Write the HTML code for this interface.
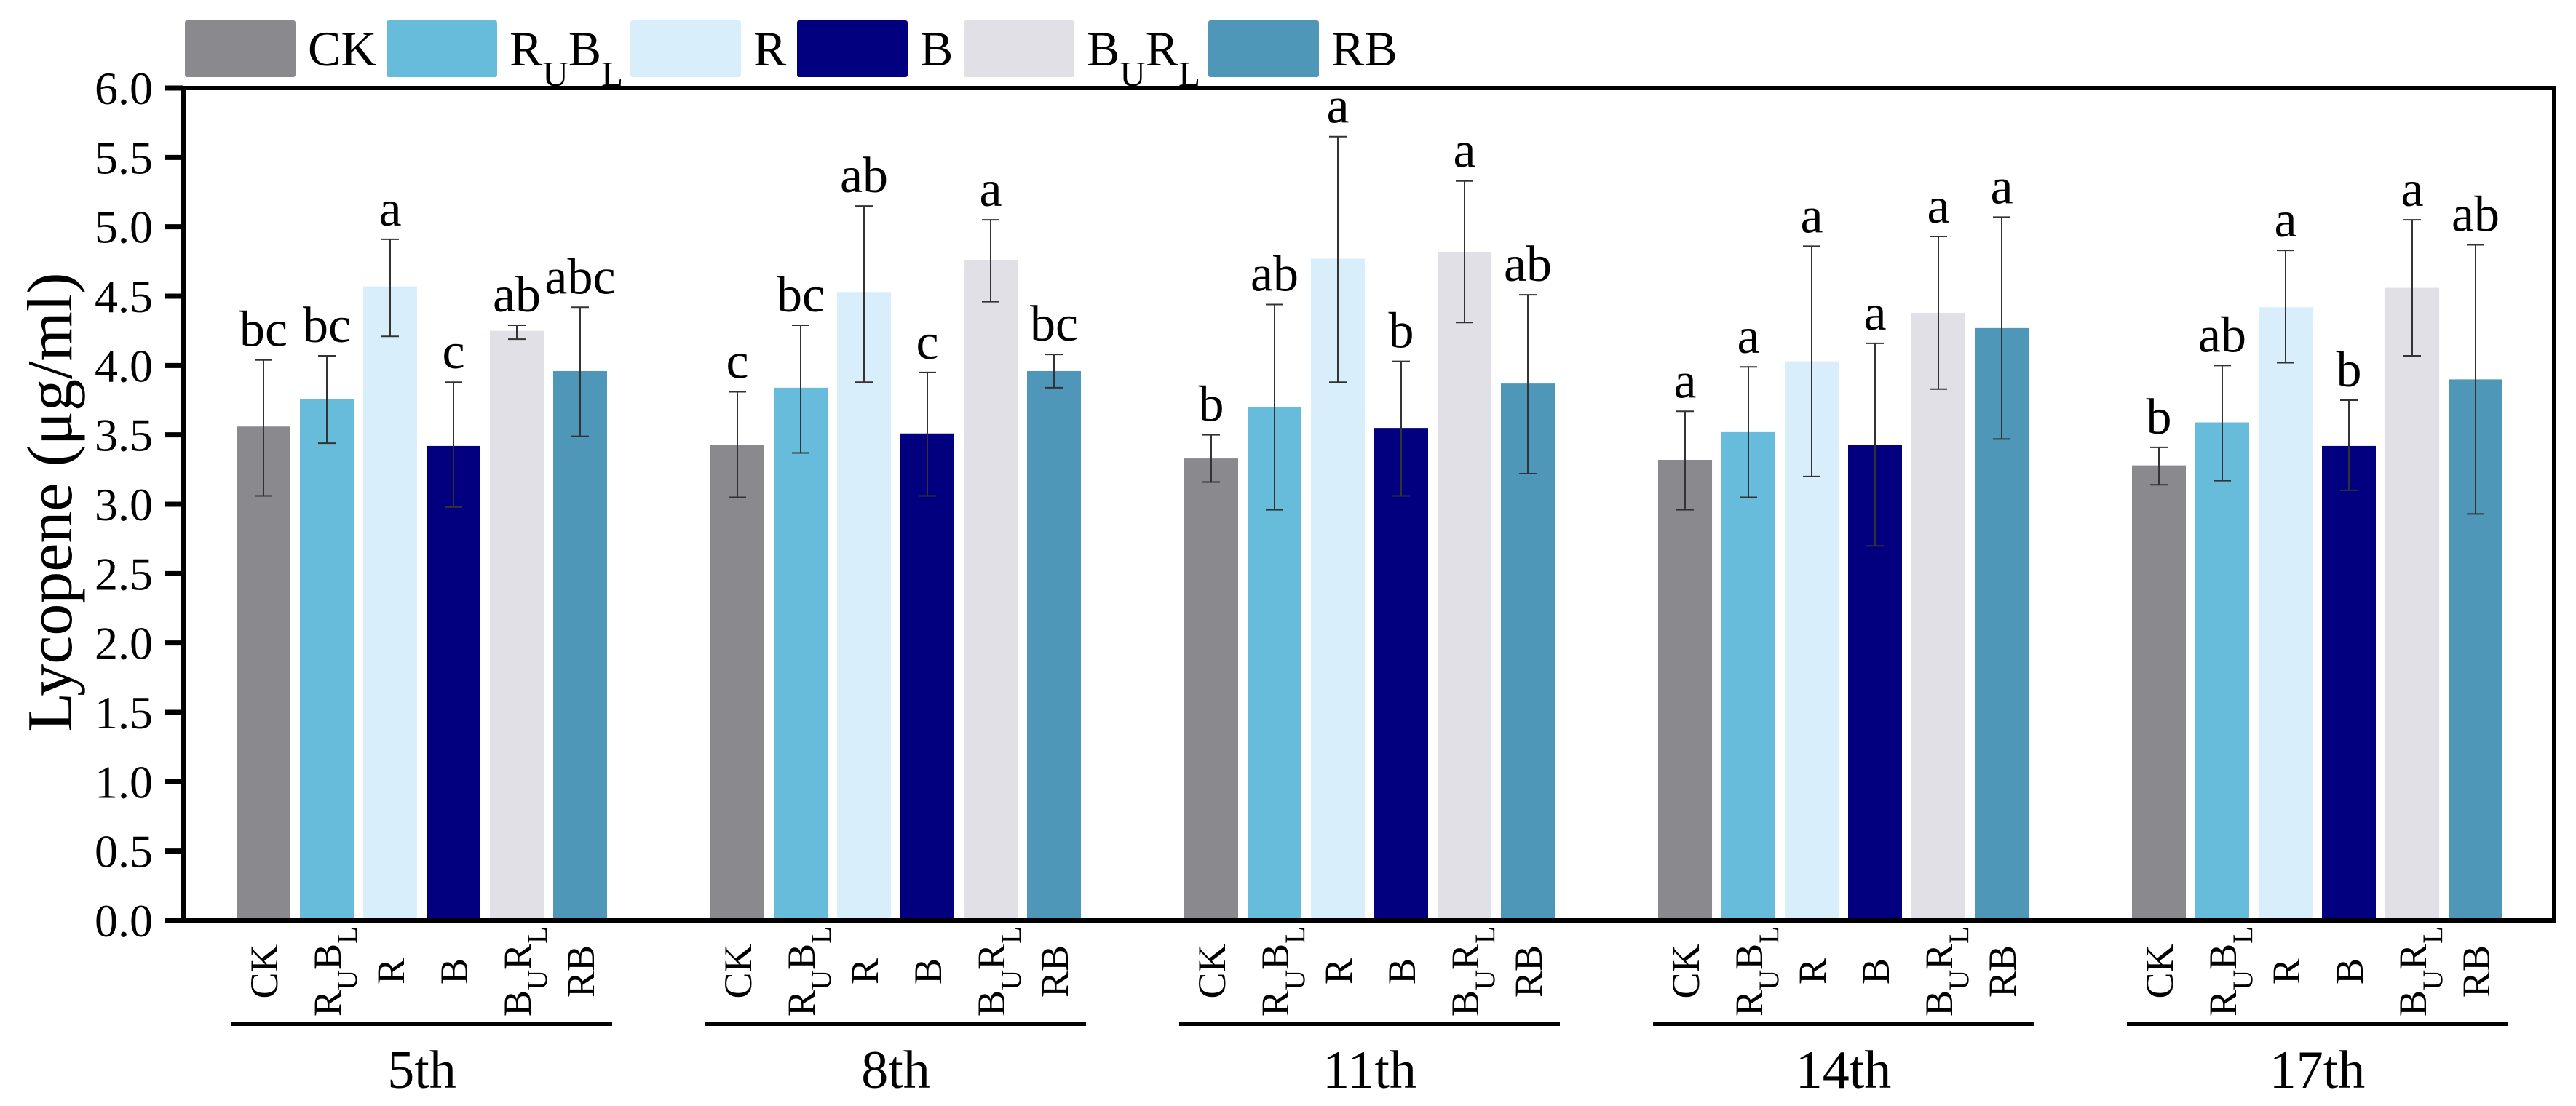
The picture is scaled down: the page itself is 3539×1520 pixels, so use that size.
<!DOCTYPE html>
<html><head><meta charset="utf-8"><style>
html,body{margin:0;padding:0;background:#fff;}
svg{display:block;font-family:"Liberation Serif","Times New Roman",serif;}
</style></head><body>
<svg id="chart" width="3539" height="1520" viewBox="0 0 3539 1520"></svg>
<script>
const groups = ["5th","8th","11th","14th","17th"];
const treatments = ["CK","RUBL","R","B","BURL","RB"];
const means5 = [3.56,3.76,4.57,3.42,4.25,3.96];
const means8 = [3.43,3.84,4.53,3.51,4.76,3.96];
const means11 = [3.33,3.70,4.77,3.55,4.82,3.87];
const means14 = [3.32,3.52,4.03,3.43,4.38,4.27];
const means17 = [3.28,3.59,4.42,3.42,4.56,3.90];
const errLo5 = [3.06,3.44,4.21,2.98,4.19,3.49];
const errHi5 = [4.04,4.07,4.91,3.88,4.29,4.42];
const errLo8 = [3.05,3.37,3.88,3.06,4.46,3.84];
const errHi8 = [3.81,4.29,5.15,3.95,5.05,4.08];
const errLo11 = [3.16,2.96,3.88,3.06,4.31,3.22];
const errHi11 = [3.50,4.44,5.65,4.03,5.33,4.51];
const errLo14 = [2.96,3.05,3.20,2.70,3.83,3.47];
const errHi14 = [3.67,3.99,4.86,4.16,4.93,5.07];
const errLo17 = [3.14,3.17,4.02,3.10,4.07,2.93];
const errHi17 = [3.41,4.00,4.83,3.75,5.05,4.87];
const letters5 = ["bc","bc","a","c","ab","abc"];
const letters8 = ["c","bc","ab","c","a","bc"];
const letters11 = ["b","ab","a","b","a","ab"];
const letters14 = ["a","a","a","a","a","a"];
const letters17 = ["b","ab","a","b","a","ab"];
const yTicks = [0,0.5,1,1.5,2,2.5,3,3.5,4,4.5,5,5.5,6];

const means=[means5,means8,means11,means14,means17];
const errLo=[errLo5,errLo8,errLo11,errLo14,errLo17];
const errHi=[errHi5,errHi8,errHi11,errHi14,errHi17];
const letters=[letters5,letters8,letters11,letters14,letters17];
const colors=["#8a898e","#67bcdb","#d8eefb","#02007f","#e0e0e6","#4e97b8"];
const labelHtml={CK:["CK"],RUBL:["R","U","B","L"],R:["R"],B:["B"],BURL:["B","U","R","L"],RB:["RB"]};

const NS="http://www.w3.org/2000/svg";
const svg=document.getElementById('chart');
const X0=252,X1=3509,Y0=1265,Y1=121;
const yMax=6;
function y(v){return Y0-(v/yMax)*(Y0-Y1);}
const groupStart=325, groupPitch=651, barPitch=87, barW=74;
function xb(g,i){return groupStart+g*groupPitch+i*barPitch;}
function mk(tag,attrs,parent){const e=document.createElementNS(NS,tag);for(const k in attrs)e.setAttribute(k,attrs[k]);(parent||svg).appendChild(e);return e;}
function richText(parent,key,x,yy,size,anchor,rot){
  const t=mk('text',{x:x,y:yy,'font-size':size,'text-anchor':anchor,fill:'#000'},parent);
  if(rot) t.setAttribute('transform',rot);
  const parts=labelHtml[key];
  if(parts.length===1){t.textContent=parts[0];}
  else{
    parts.forEach((p,k)=>{const s=mk('tspan',{},t);s.textContent=p;
      if(k%2===1){s.setAttribute('font-size',size*0.72);s.setAttribute('baseline-shift','sub');}
    });
  }
  return t;
}

// Legend
const legX=[254,531,866,1095,1324,1660];
treatments.forEach((tr,i)=>{
  const g=mk('g',{});
  
  
  const r=mk('rect',{x:legX[i],y:28,width:152,height:78,rx:3,fill:colors[i]},g);
  
  
  const t=richText(g,tr,legX[i]+169,90,68,'start');
  
  
});

// Bars
groups.forEach((gn,g)=>{
  treatments.forEach((tr,i)=>{
    const v=means[g][i];
    const b=mk('rect',{x:xb(g,i),y:y(v),width:barW,height:Y0-y(v),fill:colors[i]});
    
    
    const cx=xb(g,i)+barW/2;
    const eg=mk('g',{stroke:'#333','stroke-width':2});
    
    
    mk('line',{x1:cx,x2:cx,y1:y(errLo[g][i]),y2:y(errHi[g][i])},eg);
    mk('line',{x1:cx-12,x2:cx+12,y1:y(errHi[g][i]),y2:y(errHi[g][i])},eg);
    mk('line',{x1:cx-12,x2:cx+12,y1:y(errLo[g][i]),y2:y(errLo[g][i])},eg);
    const lt=mk('text',{x:cx,y:y(errHi[g][i])-19,'font-size':70,'text-anchor':'middle',fill:'#000'});
    lt.textContent=letters[g][i];
    
    
    const tl=richText(svg,tr,0,0,54,'middle','translate('+(cx+19)+',1335) rotate(-90)');
    
    
  });
  const gx0=xb(g,0)-7, gx1=xb(g,5)+barW+7;
  const ul=mk('line',{x1:gx0,x2:gx1,y1:1407,y2:1407,stroke:'#000','stroke-width':6});
  
  
  const gl=mk('text',{x:(gx0+gx1)/2,y:1495,'font-size':74,'text-anchor':'middle',fill:'#000'});
  gl.textContent=gn;
  
  
});

// Axes frame
const frame=mk('rect',{x:X0,y:Y1,width:X1-X0,height:Y0-Y1,fill:'none',stroke:'#000','stroke-width':6});


const ya=mk('line',{x1:X0,x2:X0,y1:Y1-3,y2:Y0+3,stroke:'#000','stroke-width':7});


const xa=mk('line',{x1:X0-26,x2:X1+3,y1:Y0,y2:Y0,stroke:'#000','stroke-width':7});


yTicks.forEach(v=>{
  const tk=mk('line',{x1:X0-26,x2:X0,y1:y(v),y2:y(v),stroke:'#000','stroke-width':7});
  
  
  const tl=mk('text',{x:210,y:y(v)+22,'font-size':64,'text-anchor':'end',fill:'#000'});
  tl.textContent=v.toFixed(1);
  
  
});
const yt=mk('text',{x:0,y:0,'font-size':88,'text-anchor':'middle',fill:'#000',transform:'translate(98,690) rotate(-90)'});
yt.textContent='Lycopene (μg/ml)';


</script>
</body></html>
